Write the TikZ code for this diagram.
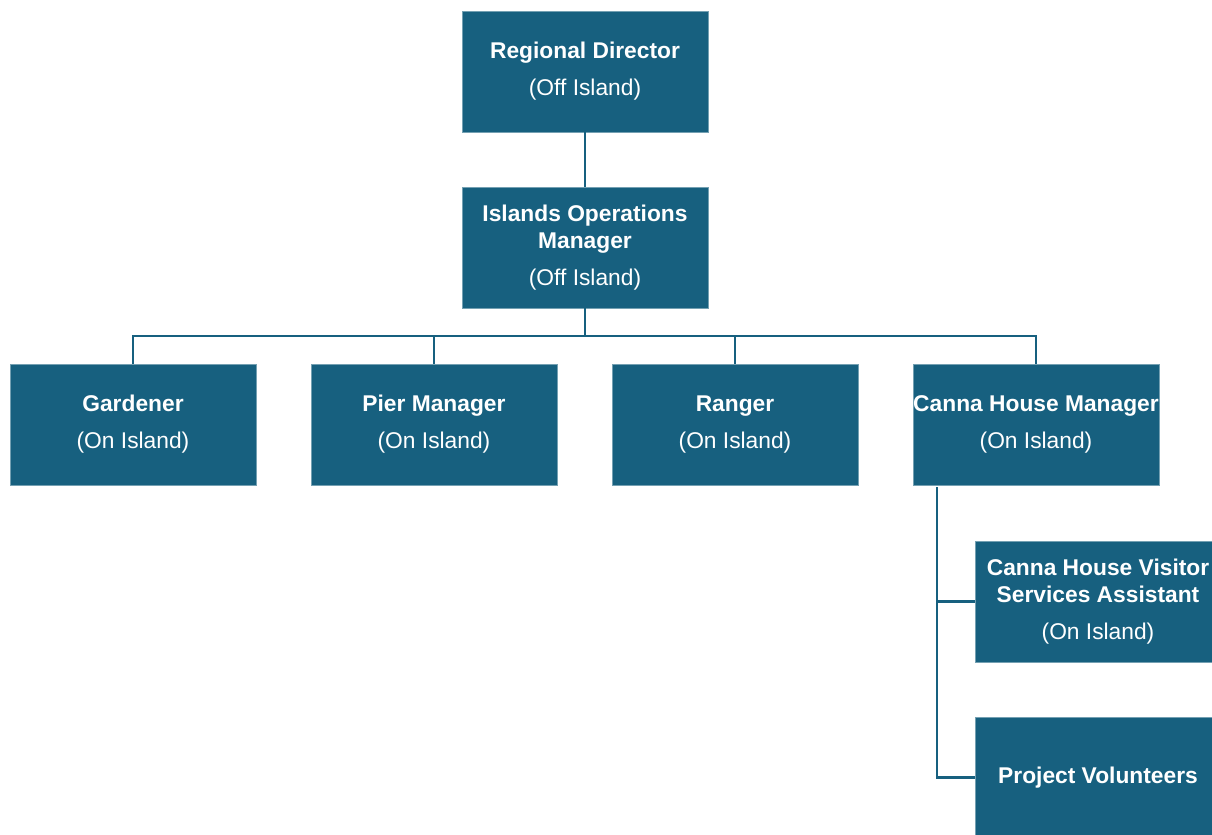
\documentclass[tikz,border=0pt]{standalone}
\usepackage{fontspec}
\setmainfont{Liberation Sans}
\usepackage{tikz}
\usetikzlibrary{positioning}

\definecolor{orgblue}{RGB}{23,96,127}

\tikzset{
	post/.style={fill=orgblue, draw=orgblue!60!white, line width=0.4pt, text=white,
		minimum width=6.15cm, minimum height=3.025cm, inner sep=0pt, outer sep=0pt,
		align=center, font=\fontsize{16.2}{19.2}\selectfont},
	link/.style={draw=orgblue, line width=2.1pt}
}

\begin{document}
\begin{tikzpicture}[x=0.025cm, y=-0.025cm]

		\useasboundingbox (0,0) rectangle (1212,835);
		\clip (0,0) rectangle (1212,835);

		\node[post] (director) at (585,71.5) {\textbf{Regional Director}\\[7pt](Off Island)};
		\node[post] (opsman) at (585,247.5) {\textbf{Islands Operations}\\\textbf{Manager}\\[7pt](Off Island)};
		\node[post] (gardener) at (133,424.5) {\textbf{Gardener}\\[7pt](On Island)};
		\node[post] (pier) at (434,424.5) {\textbf{Pier Manager}\\[7pt](On Island)};
		\node[post] (ranger) at (735,424.5) {\textbf{Ranger}\\[7pt](On Island)};
		\node[post] (housemgr) at (1036,424.5) {\textbf{Canna House Manager}\\[7pt](On Island)};
		\node[post] (visitor) at (1098,601.5) {\textbf{Canna House Visitor}\\\textbf{Services Assistant}\\[7pt](On Island)};
		\node[post] (volunteers) at (1098,777.5) {\textbf{Project Volunteers}};

		\coordinate (housetap) at (937,487);

		\draw[link] (director) -- (opsman);
		\draw[link] (opsman.south) -- ++(0,28) -| (gardener.north);
		\draw[link] (opsman.south) -- ++(0,28) -| (pier.north);
		\draw[link] (opsman.south) -- ++(0,28) -| (ranger.north);
		\draw[link] (opsman.south) -- ++(0,28) -| (housemgr.north);
		\draw[link] (housetap) |- (visitor.west);
		\draw[link] (housetap) |- (volunteers.west);
	\end{tikzpicture}
\end{document}
